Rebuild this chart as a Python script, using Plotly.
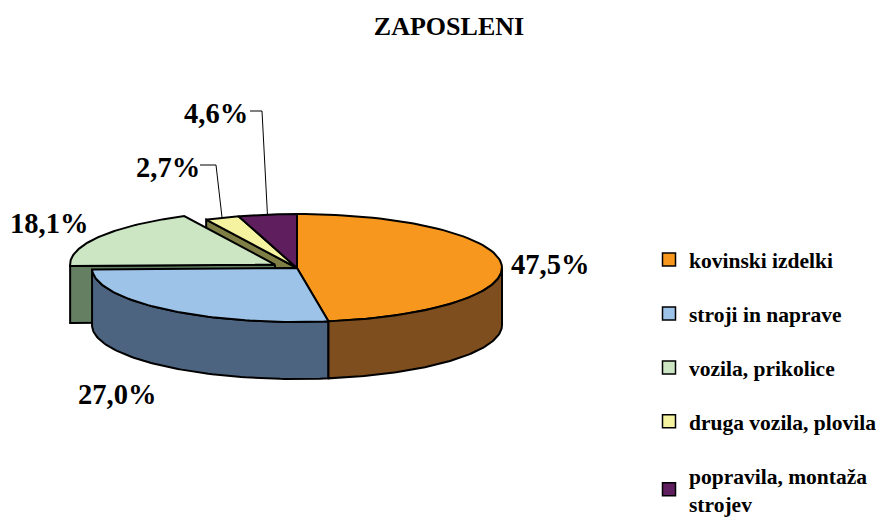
import numpy as np
import plotly.graph_objects as go

categories = ["kovinski izdelki", "stroji in naprave", "vozila, prikolice", "druga vozila, plovila", "popravila, montaža<br>strojev"]
values = [47.5, 27.0, 18.1, 2.7, 4.6]
value_labels = ["47,5%", "27,0%", "18,1%", "2,7%", "4,6%"]
top_colors = ["#F7971D", "#9DC3E8", "#CCE6C4", "#F5F39F", "#5F1F5F"]
side_colors = ["#7E4E1E", "#4D6480", "#647F62", "#7F7F45", "#30102F"]
explode = [0, 0, 0.125, 0, 0]
title = "ZAPOSLENI"

W, H = 878, 517
CX, CY, RX, RY, DEPTH = 297, 268, 205, 54, 57
FONT = "Liberation Serif"

fracs = np.array(values) / np.sum(values)
edges = np.concatenate([[0], np.cumsum(fracs)]) * 2 * np.pi
centers = []
for i in range(len(values)):
    mid = (edges[i] + edges[i + 1]) / 2
    centers.append((CX + explode[i] * RX * np.sin(mid), CY - explode[i] * RY * np.cos(mid)))

def rim(i, a0=None, a1=None):
    a0 = edges[i] if a0 is None else a0
    a1 = edges[i + 1] if a1 is None else a1
    t = np.linspace(a0, a1, 80)
    return centers[i][0] + RX * np.sin(t), centers[i][1] - RY * np.cos(t)

fig = go.Figure()

def poly(x, y, color):
    x = np.concatenate([x, x[:1]])
    y = np.concatenate([y, y[:1]])
    fig.add_trace(go.Scatter(x=x, y=y, mode="lines", fill="toself", fillcolor=color,
                             line=dict(color="black", width=2), hoverinfo="skip", showlegend=False))

def top(i):
    x, y = rim(i)
    poly(np.r_[centers[i][0], x], np.r_[centers[i][1], y], top_colors[i])

def radial_wall(i, angle):
    cx, cy = centers[i]
    ex, ey = cx + RX * np.sin(angle), cy - RY * np.cos(angle)
    poly(np.array([cx, ex, ex, cx]), np.array([cy, ey, ey + DEPTH, cy + DEPTH]), side_colors[i])

def outer_wall(i, a0, a1):
    x, y = rim(i, a0, a1)
    poly(np.r_[x, x[::-1]], np.r_[y, y[::-1] + DEPTH], side_colors[i])

# back to front
radial_wall(3, edges[3])
radial_wall(2, edges[2])
top(2)
top(3)
top(4)
top(0)
outer_wall(1, edges[1], edges[2])
top(1)
outer_wall(0, np.pi / 2, edges[1])

# real legend entries
for name, color in zip(categories, top_colors):
    fig.add_trace(go.Scatter(x=[None], y=[None], mode="markers", name=f"<b>{name}</b>", legendgroup=name,
                             marker=dict(symbol="square", size=13, color=color, line=dict(color="black", width=1.5))))

# leader lines for the two thin slices
leaders = {3: [(200, 165), (216, 165)], 4: [(250, 111), (262, 111)]}
for i, pts in leaders.items():
    mid = (edges[i] + edges[i + 1]) / 2
    ex, ey = centers[i][0] + RX * np.sin(mid), centers[i][1] - RY * np.cos(mid)
    fig.add_trace(go.Scatter(x=[p[0] for p in pts] + [ex], y=[p[1] for p in pts] + [ey], mode="lines",
                             line=dict(color="black", width=1), hoverinfo="skip", showlegend=False))

label_pos = [(550, 264), (117, 394), (49, 223), (168, 167), (216, 113)]
annotations = [dict(x=x, y=y, text=f"<b>{t}</b>", showarrow=False, xanchor="center", yanchor="middle",
                    font=dict(family=FONT, size=28.5, color="black"))
               for t, (x, y) in zip(value_labels, label_pos)]

fig.update_layout(
    width=W, height=H, margin=dict(l=0, r=0, t=0, b=0, autoexpand=False),
    autosize=False,
    paper_bgcolor="white", plot_bgcolor="white",
    title=dict(text=f"<b>{title}</b>", x=449 / W, xanchor="center", y=1 - 26 / H, yanchor="middle",
               font=dict(family=FONT, size=26, color="black")),
    xaxis=dict(range=[0, W], visible=False, fixedrange=True),
    yaxis=dict(range=[H, 0], visible=False, fixedrange=True),
    legend=dict(x=649 / W, y=1 - 239 / H, xanchor="left", yanchor="top", tracegroupgap=23,
                font=dict(family=FONT, size=21.5, color="black"), bgcolor="rgba(0,0,0,0)", itemwidth=30),
    annotations=annotations,
)
fig.write_html("out.html", config={"displayModeBar": False},
               post_script="document.body.style.margin='0';document.body.style.overflow='hidden';")
